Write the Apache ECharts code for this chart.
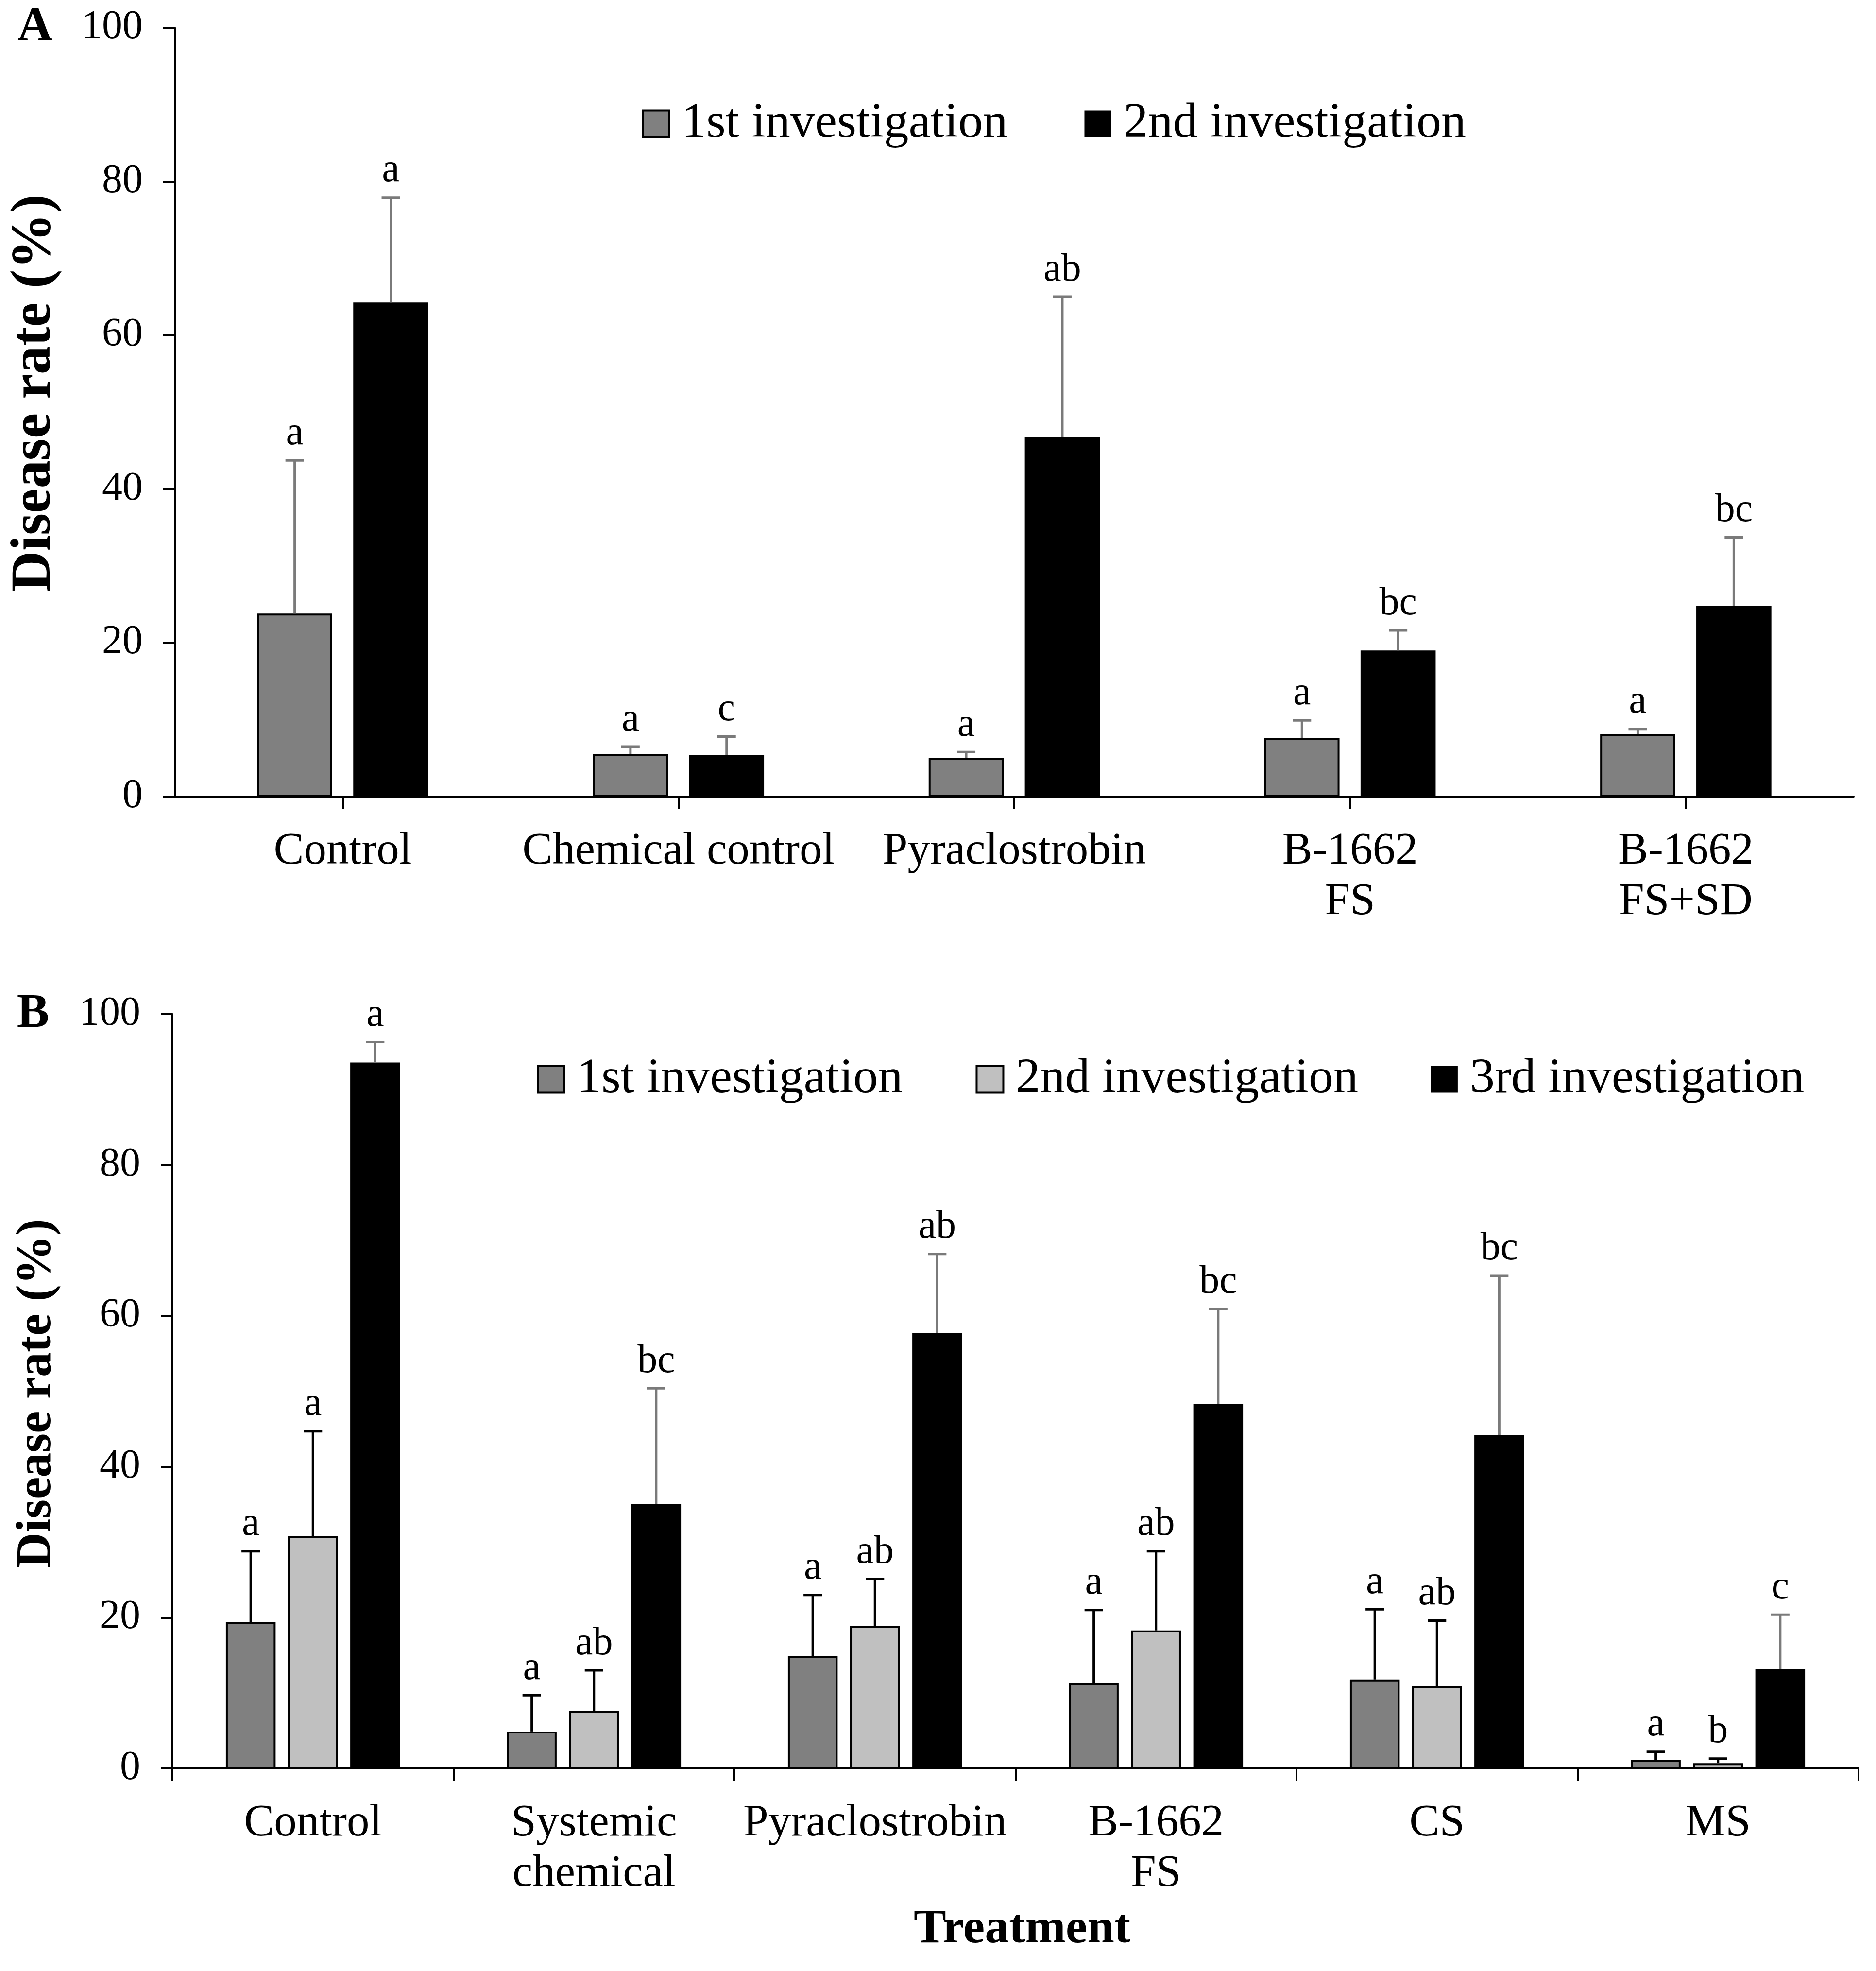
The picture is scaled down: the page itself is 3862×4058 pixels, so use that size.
<!DOCTYPE html>
<html>
<head>
<meta charset="utf-8">
<title>Disease rate</title>
<script src="https://cdn.jsdelivr.net/npm/echarts@6/dist/echarts.min.js"></script>
<style>
  html, body { margin: 0; padding: 0; background: #fff; }
  #main { width: 3862px; height: 4058px; }
</style>
</head>
<body>
<div id="main"></div>
<script>
// panel A data
const catsA = ['Control', 'Chemical control', 'Pyraclostrobin', 'B-1662\nFS', 'B-1662\nFS+SD'];
const a1 = [23.8, 5.5, 5.0, 7.6, 8.1];
const a1Se = [19.9, 1.0, 0.8, 2.3, 0.7];
const a1Let = ['a', 'a', 'a', 'a', 'a'];
const a2 = [64.3, 5.4, 46.8, 19.0, 24.8];
const a2Se = [13.6, 2.4, 18.2, 2.6, 8.9];
const a2Let = ['a', 'c', 'ab', 'bc', 'bc'];

// panel B data
const catsB = ['Control', 'Systemic\nchemical', 'Pyraclostrobin', 'B-1662\nFS', 'CS', 'MS'];
const b1 = [19.4, 4.9, 14.9, 11.3, 11.8, 1.1];
const b1Se = [9.4, 4.8, 8.1, 9.7, 9.3, 1.1];
const b1Let = ['a', 'a', 'a', 'a', 'a', 'a'];
const b2 = [30.8, 7.6, 18.9, 18.3, 10.9, 0.7];
const b2Se = [13.9, 5.4, 6.2, 10.5, 8.7, 0.6];
const b2Let = ['a', 'ab', 'ab', 'ab', 'ab', 'b'];
const b3 = [93.6, 35.1, 57.7, 48.3, 44.2, 13.2];
const b3Se = [2.7, 15.3, 10.5, 12.6, 21.1, 7.2];
const b3Let = ['a', 'bc', 'ab', 'bc', 'bc', 'c'];

const yTicks = [0, 20, 40, 60, 80, 100];

const FONT = '"Liberation Serif", "Times New Roman", serif';
const DARK = '#808080';
const LIGHT = '#c0c0c0';
const ERR_GREY = '#7a7a7a';

// gaps shared by bars and error bars
const gapA = { cat: 0.49, bar: 0.28 };
const gapB = { cat: 0.38, bar: 0.25 };

// error bar data rows: [category, mean, mean+se, barIndex]
function errRows(means, se, k) {
  return means.map((m, i) => [i, m, +(m + se[i]).toFixed(2), k]);
}

function errSeries(xi, nBars, gap, groups) {
  const rows = [];
  const letters = [];
  const colors = [];
  groups.forEach((g, k) => {
    errRows(g.mean, g.se, k).forEach((r, i) => {
      rows.push(r);
      letters.push(g.letters[i]);
      colors.push(g.color);
    });
  });
  return {
    type: 'custom',
    xAxisIndex: xi,
    yAxisIndex: xi,
    z: 5,
    encode: { x: 0, y: 2 },
    data: rows,
    renderItem: function (params, api) {
      const cat = api.value(0);
      const k = api.value(3);
      const catW = api.size([1, 0])[0];
      const total = catW * (1 - gap.cat);
      const w = total / (nBars + (nBars - 1) * gap.bar);
      const dx = -total / 2 + w / 2 + k * w * (1 + gap.bar);
      const p0 = api.coord([cat, api.value(1)]);
      const p1 = api.coord([cat, api.value(2)]);
      const x = p0[0] + dx;
      const col = colors[params.dataIndex];
      const cap = 19;
      return {
        type: 'group',
        children: [
          { type: 'line', shape: { x1: x, y1: p0[1], x2: x, y2: p1[1] },
            style: { stroke: col, lineWidth: 5 } },
          { type: 'line', shape: { x1: x - cap, y1: p1[1], x2: x + cap, y2: p1[1] },
            style: { stroke: col, lineWidth: 5 } },
          { type: 'text', x: x, y: p1[1] - 14,
            style: { text: letters[params.dataIndex], fontFamily: FONT, fontSize: 82,
                     fill: '#000', align: 'center', verticalAlign: 'bottom' } }
        ]
      };
    }
  };
}

function barSeries(name, xi, data, color, border, gap) {
  return {
    name: name,
    type: 'bar',
    xAxisIndex: xi,
    yAxisIndex: xi,
    data: data,
    barGap: (gap.bar * 100) + '%',
    barCategoryGap: (gap.cat * 100) + '%',
    itemStyle: { color: color, borderColor: '#000', borderWidth: border },
    emphasis: { disabled: true }
  };
}

function yAxis(gi) {
  return {
    type: 'value',
    gridIndex: gi,
    min: yTicks[0],
    max: yTicks[yTicks.length - 1],
    interval: yTicks[1] - yTicks[0],
    splitLine: { show: false },
    axisLine: { show: true, lineStyle: { color: '#000', width: 4 } },
    axisTick: { show: true, length: 24, lineStyle: { color: '#000', width: 4 } },
    axisLabel: { margin: 66, fontFamily: FONT, fontSize: 84, color: '#000' }
  };
}

function xAxis(gi, cats, align) {
  return {
    type: 'category',
    gridIndex: gi,
    data: cats,
    axisLine: { show: true, lineStyle: { color: '#000', width: 4 } },
    axisTick: { show: true, alignWithLabel: align, length: 25, lineStyle: { color: '#000', width: 4 } },
    axisLabel: { margin: 62, fontFamily: FONT, fontSize: 93, color: '#000', lineHeight: 104, interval: 0 }
  };
}

function legendItem(name, color, border) {
  return { name: name, icon: 'rect',
           itemStyle: { color: color, borderColor: '#000', borderWidth: border } };
}

const legendText = { fontFamily: FONT, fontSize: 102, color: '#000', lineHeight: 110, padding: [0, 0, 0, 20] };

function label(text, x, y, size, bold, rot) {
  return {
    type: 'text', x: x, y: y, rotation: rot || 0,
    style: { text: text, fontFamily: FONT, fontSize: size, fontWeight: bold ? 'bold' : 'normal',
             fill: '#000', align: 'center', verticalAlign: 'middle' }
  };
}

const chart = echarts.init(document.getElementById('main'), null, { renderer: 'canvas' });

const option = {
  backgroundColor: '#fff',
  animation: false,
  grid: [
    { left: 360, top: 57, width: 3456, height: 1583 },
    { left: 355, top: 2088, width: 3471, height: 1553 }
  ],
  xAxis: [xAxis(0, catsA, true), xAxis(1, catsB, false)],
  yAxis: [yAxis(0), yAxis(1)],
  legend: [
    {
      left: 1316, top: 195, itemWidth: 55, itemHeight: 55, itemGap: 158,
      textStyle: legendText,
      data: [legendItem('1st investigation', DARK, 4), legendItem('2nd investigation', '#000', 0)]
    },
    {
      left: 1100, top: 2162, itemWidth: 55, itemHeight: 55, itemGap: 150,
      textStyle: legendText,
      data: [legendItem('1st investigation', DARK, 4), legendItem('2nd investigation', LIGHT, 4),
             legendItem('3rd investigation', '#000', 0)]
    }
  ],
  graphic: [
    label('A', 72, 57, 100, true),
    label('B', 68, 2088, 100, true),
    label('Disease rate (%)', 72, 809, 116, true, Math.PI / 2),
    label('Disease rate (%)', 77, 2869, 102, true, Math.PI / 2),
    label('Treatment', 2104, 3973, 100, true)
  ],
  series: [
    barSeries('1st investigation', 0, a1, DARK, 4, gapA),
    barSeries('2nd investigation', 0, a2, '#000', 0, gapA),
    errSeries(0, 2, gapA, [
      { mean: a1, se: a1Se, letters: a1Let, color: ERR_GREY },
      { mean: a2, se: a2Se, letters: a2Let, color: ERR_GREY }
    ]),
    barSeries('1st investigation', 1, b1, DARK, 4, gapB),
    barSeries('2nd investigation', 1, b2, LIGHT, 4, gapB),
    barSeries('3rd investigation', 1, b3, '#000', 0, gapB),
    errSeries(1, 3, gapB, [
      { mean: b1, se: b1Se, letters: b1Let, color: '#000' },
      { mean: b2, se: b2Se, letters: b2Let, color: '#000' },
      { mean: b3, se: b3Se, letters: b3Let, color: ERR_GREY }
    ])
  ]
};

chart.setOption(option);
</script>
</body>
</html>
